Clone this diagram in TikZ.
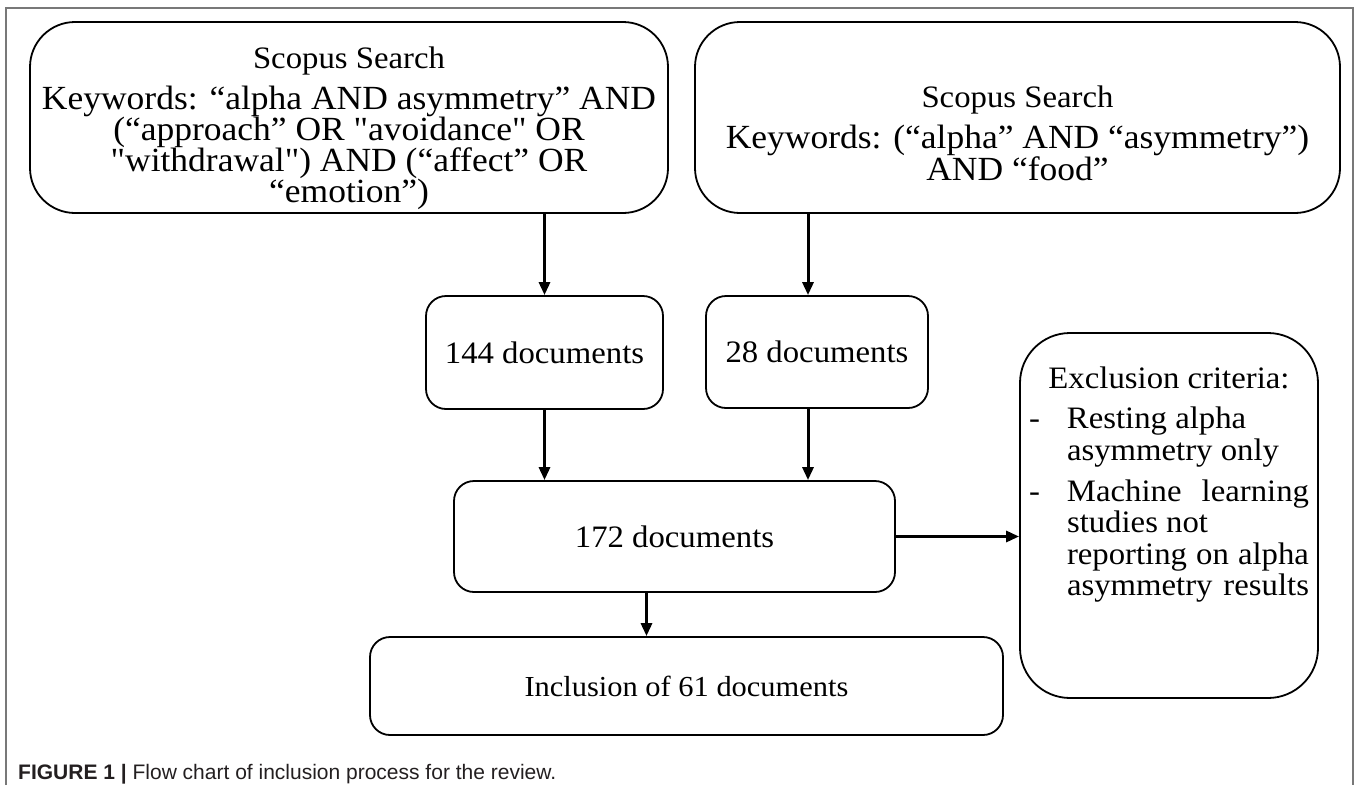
\documentclass[tikz,border=0pt]{standalone}
\usepackage{fontspec}
\setmainfont{Liberation Serif}[FakeStretch=1.05, Ligatures=TeXOff]
\newfontfamily\capfont{Liberation Sans}
\usepackage{tikz}
\usetikzlibrary{arrows.meta, positioning, calc}
\definecolor{colFrame}{RGB}{120, 120, 120}
\definecolor{colCap}{RGB}{35, 31, 32}
\newcommand{\spreadline}[1]{\makebox[242pt][s]{#1}}
\newcommand{\titlesize}{\fontsize{31.2}{31}\selectfont}

\begin{document}
\begin{tikzpicture}[x=1pt, y=-1pt,
    every node/.style={font=\fontsize{31.2}{31}\selectfont},
    searchbox/.style={draw, line width=1.8pt, rounded corners=45pt, align=center,
        inner sep=0pt, minimum width=#1, minimum height=191pt,
        font=\fontsize{33.8}{31}\selectfont},
    countbox/.style={draw, line width=1.8pt, rounded corners=20pt, align=center,
        inner sep=0pt, minimum width=#1, minimum height=112pt},
    flow/.style={-{Triangle[length=13pt, width=11pt]}, line width=3pt}]
    \useasboundingbox (0, 0) rectangle (1358, 785);

    % --- outer frame ---
    \draw[colFrame, line width=2pt] (6, 785) -- (6, 8) -- (1353, 8) -- (1353, 785);

    % --- Scopus searches ---
    \node[searchbox=638pt] (srchA) at (349, 117.5) {\rule{0pt}{43.5pt}{\titlesize Scopus Search}\\[9.9pt]
        Keywords: “alpha AND asymmetry” AND\\
        (“approach” OR "avoidance" OR\\
        "withdrawal") AND (“affect” OR\\
        “emotion”)};
    \node[searchbox=645pt] (srchB) at (1017.5, 117.5) {\rule{0pt}{53.5pt}{\titlesize Scopus Search}\\[9.9pt]
        Keywords: (“alpha” AND “asymmetry”)\\
        AND “food”};

    % --- document counts ---
    \node[countbox=237pt, minimum height=113pt] (docsA) at (544.5, 352.5) {144 documents};
    \node[countbox=222pt] (docsB) at (817, 352) {28 documents};
    \node[countbox=441pt, minimum height=111pt] (merged) at (674.5, 536.5) {172 documents};
    \node[countbox=633pt, minimum height=98pt, font=\fontsize{29}{31}\selectfont]
        (final) at (686.5, 686) {Inclusion of 61 documents};

    % --- exclusion criteria ---
    \node[draw, line width=1.8pt, rounded corners=50pt, inner sep=0pt,
        minimum width=298pt, minimum height=365pt,
        font=\fontsize{31.2}{31.5}\selectfont] (excl) at (1169, 515.5) {%
        \begin{tabular}{@{}p{38pt}@{}l@{}}
            \multicolumn{2}{@{}c@{}}{Exclusion criteria:}\\[8.5pt]
            - & Resting alpha\\
              & asymmetry only\\[9.5pt]
            - & \spreadline{Machine learning}\\
              & studies not\\
              & \spreadline{reporting on alpha}\\
              & \spreadline{asymmetry results}\\[59pt]
        \end{tabular}};

    % --- arrows ---
    \draw[flow] (docsA.north |- srchA.south) -- (docsA.north);
    \draw[flow] ([xshift=-9pt]docsB.north |- srchB.south) -- ([xshift=-9pt]docsB.north);
    \draw[flow] (docsA.south) -- (docsA.south |- merged.north);
    \draw[flow] ([xshift=-9pt]docsB.south) -- ([xshift=-9pt]docsB.south |- merged.north);
    \draw[flow] ([xshift=-28pt]merged.south) -- ([xshift=-28pt]merged.south |- final.north);
    \draw[flow] (merged.east) -- (merged.east -| excl.west);

    % --- caption ---
    \node[anchor=base west, inner sep=0pt, text=colCap,
        font=\capfont\fontsize{21}{23}\selectfont] (caption) at (18, 779)
        {\textbf{FIGURE 1 |} Flow chart of inclusion process for the review.};
\end{tikzpicture}
\end{document}
